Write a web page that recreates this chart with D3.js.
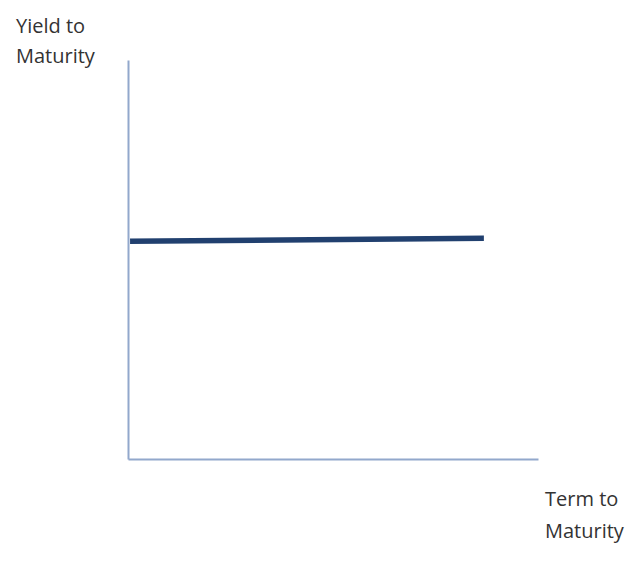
<!DOCTYPE html>
<html><head><meta charset="utf-8">
<script src="https://cdn.jsdelivr.net/npm/d3@7"></script>
<style>body{margin:0;background:#fff}svg{display:block}</style>
</head><body>
<svg id="c" width="644" height="567"></svg>
<script>
const terms = [0.05, 8.68];
const yields = [5.46, 5.53];
const yLabel = ["Yield to", "Maturity"];
const xLabel = ["Term to", "Maturity"];

const svg = d3.select("#c");
const x = d3.scaleLinear().domain([0, 10]).range([128, 538]);
const y = d3.scaleLinear().domain([0, 10]).range([459, 60]);

const axisColor = "#92a8cc";
svg.append("g").attr("transform", `translate(0,${y(0)})`)
  .call(d3.axisBottom(x).ticks(0).tickSize(0).tickFormat(""))
  .call(g => g.select(".domain").attr("stroke", axisColor).attr("stroke-width", 2));
svg.append("g").attr("transform", `translate(${x(0)},0)`)
  .call(d3.axisLeft(y).ticks(0).tickSize(0).tickFormat(""))
  .call(g => g.select(".domain").attr("stroke", axisColor).attr("stroke-width", 2));

const pts = terms.map((t, i) => [t, yields[i]]);
svg.append("path").datum(pts)
  .attr("d", d3.line().x(d => x(d[0])).y(d => y(d[1])))
  .attr("fill", "none").attr("stroke", "#21406f").attr("stroke-width", 5.5);

const font = "'Open Sans', 'Liberation Sans', sans-serif";
svg.append("text").attr("x", 16).attr("y", 33).attr("font-family", font)
  .attr("font-size", 20).attr("fill", "#333")
  .selectAll("tspan").data(yLabel).join("tspan")
  .attr("x", 16).attr("dy", (d, i) => i ? 30 : 0).text(d => d);
svg.append("text").attr("x", 545).attr("y", 506).attr("font-family", font)
  .attr("font-size", 20).attr("fill", "#333")
  .selectAll("tspan").data(xLabel).join("tspan")
  .attr("x", 545).attr("dy", (d, i) => i ? 32 : 0).text(d => d);
</script>
</body></html>
